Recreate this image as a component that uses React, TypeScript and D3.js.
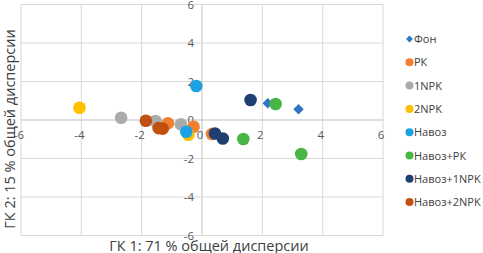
import React from "react";
import * as d3 from "d3";

const seriesNames = ["Фон", "РК", "1NPK", "2NPK", "Навоз", "Навоз+РК", "Навоз+1NPK", "Навоз+2NPK"];
const seriesColors = ["#2E75C6", "#F08030", "#ABABAB", "#FFC000", "#1BA1E2", "#48B545", "#1F3F73", "#C0500F"];
const seriesShapes = ["diamond", "circle", "circle", "circle", "circle", "circle", "circle", "circle"];

const fonX = [2.18, 3.2];
const fonY = [0.87, 0.56];
const pkX = [-1.13, -0.28, 0.33];
const pkY = [-0.17, -0.35, -0.73];
const npk1X = [-2.68, -1.54, -0.7];
const npk1Y = [0.12, -0.05, -0.22];
const npk2X = [-4.06, -0.45];
const npk2Y = [0.64, -0.77];
const navozX = [-0.19, -0.52];
const navozY = [1.77, -0.61];
const navozPkX = [2.44, 1.37, 3.29];
const navozPkY = [0.83, -0.99, -1.77];
const navoz1X = [1.61, 0.43, 0.69];
const navoz1Y = [1.04, -0.7, -0.96];
const navoz2X = [-1.86, -1.44, -1.3];
const navoz2Y = [-0.04, -0.42, -0.45];

const seriesX = [fonX, pkX, npk1X, npk2X, navozX, navozPkX, navoz1X, navoz2X];
const seriesY = [fonY, pkY, npk1Y, npk2Y, navozY, navozPkY, navoz1Y, navoz2Y];

const ticks = [-6, -4, -2, 0, 2, 4, 6];
const xTitle = "ГК 1: 71 % общей дисперсии";
const yTitle = "ГК 2: 15 % общей дисперсии";

const W = 483;
const H = 253;
const FONT = "Open Sans, sans-serif";

export default function App() {
  const x = d3.scaleLinear().domain([-6, 6]).range([21, 383]);
  const y = d3.scaleLinear().domain([-6, 6]).range([235.5, 4.5]);
  const diamond = d3.symbol().type(d3.symbolDiamond2).size(70)();
  const diamondSmall = d3.symbol().type(d3.symbolDiamond2).size(30)();

  return (
    <svg width={W} height={H} style={{ position: "absolute", left: 0, top: 0, background: "#fff" }}>
      {ticks.map((t) => (
        <line key={"gx" + t} x1={x(t)} x2={x(t)} y1={y(-6)} y2={y(6)}
          stroke={t === 0 ? "#BFBFBF" : "#D9D9D9"} strokeWidth={1} />
      ))}
      {ticks.map((t) => (
        <line key={"gy" + t} x1={x(-6)} x2={x(6)} y1={y(t)} y2={y(t)}
          stroke={t === 0 ? "#BFBFBF" : "#D9D9D9"} strokeWidth={1} />
      ))}
      {ticks.map((t) => (
        <text key={"tx" + t} x={x(t) - 2} y={y(0) + 19} textAnchor="middle"
          fontFamily={FONT} fontSize={11.5} fill="#595959">{t}</text>
      ))}
      {ticks.map((t) => (
        <text key={"ty" + t} x={x(0) - 8} y={y(t) + 4} textAnchor="end"
          fontFamily={FONT} fontSize={11.5} fill="#595959">{t}</text>
      ))}
      {seriesX.map((xs, si) =>
        xs.map((v, i) =>
          seriesShapes[si] === "diamond" ? (
            <path key={si + "-" + i} d={diamond} transform={`translate(${x(v)},${y(seriesY[si][i])})`}
              fill={seriesColors[si]} />
          ) : (
            <circle key={si + "-" + i} cx={x(v)} cy={y(seriesY[si][i])} r={6.3} fill={seriesColors[si]} />
          )
        )
      )}
      <text x={209} y={250.5} textAnchor="middle" fontFamily={FONT} fontSize={14.5} fill="#404040">{xTitle}</text>
      <text transform={`translate(15,129) rotate(-90)`} textAnchor="middle" fontFamily={FONT} fontSize={14.5} fill="#404040">{yTitle}</text>
      {seriesNames.map((n, i) => {
        const ly = 39 + i * 23.3;
        return (
          <g key={n}>
            {seriesShapes[i] === "diamond" ? (
              <path d={diamondSmall} transform={`translate(409.5,${ly})`} fill={seriesColors[i]} />
            ) : (
              <circle cx={409.5} cy={ly} r={4} fill={seriesColors[i]} />
            )}
            <text x={414} y={ly + 4} fontFamily={FONT} fontSize={11} fill="#404040">{n}</text>
          </g>
        );
      })}
    </svg>
  );
}
